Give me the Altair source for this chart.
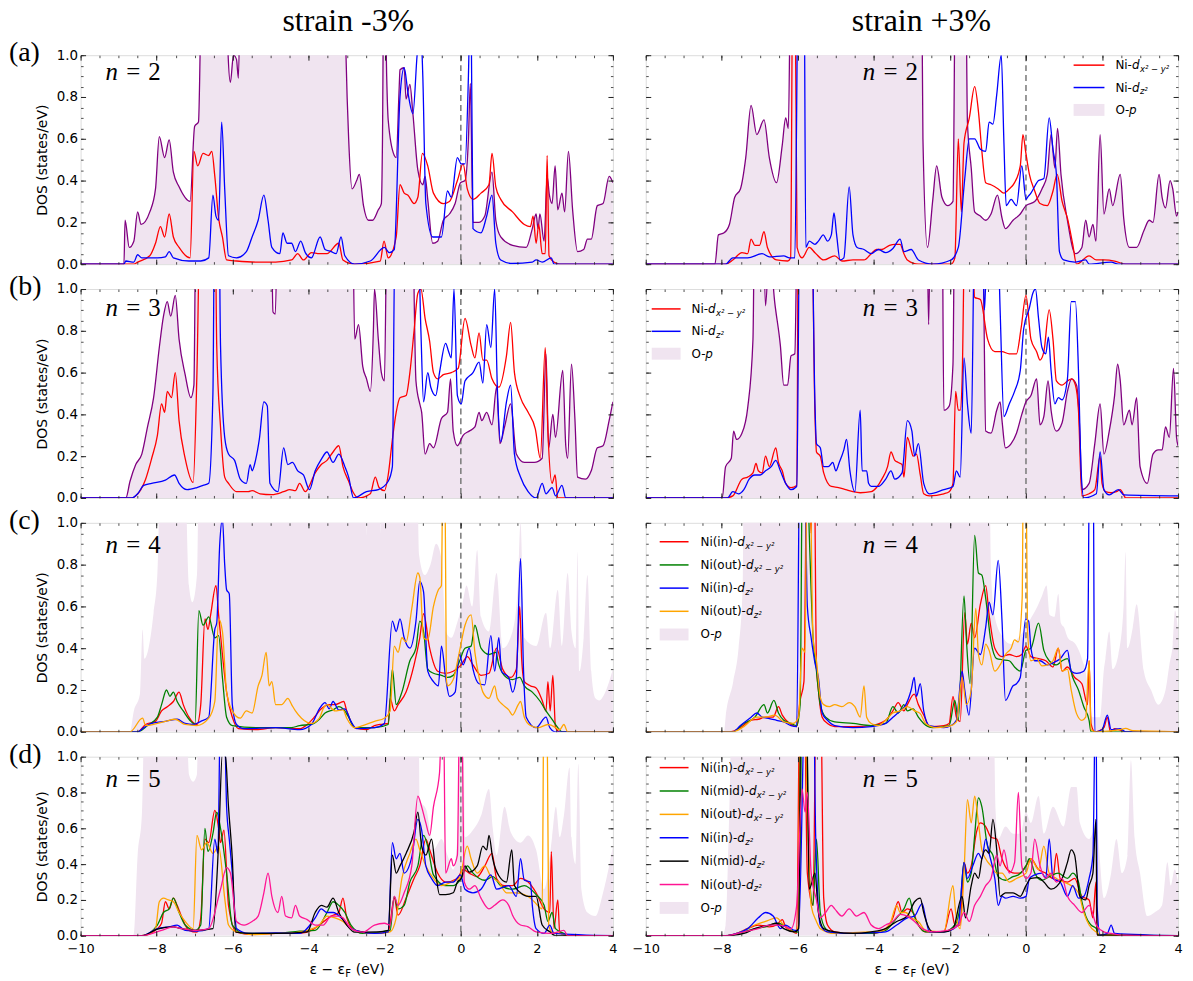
import altair as alt
import pandas as pd

# ---------------- values: (E - E_F  [eV], DOS [states/eV]) ----------------
# row (a) n = 2, strain -3 %
AL_OP = [(-10,0),(-8.86,0),(-8.83,0.21),(-8.72,0.08),(-8.60,0.11),(-8.50,0.25),(-8.41,0.19),(-8.18,0.25),(-8.03,0.36),(-7.93,0.61),(-7.79,0.51),(-7.67,0.595),(-7.56,0.44),(-7.41,0.37),(-7.12,0.30),(-7.00,0.66),(-6.90,0.68),(-6.80,1.5),(-6.16,1.5),(-6.12,1.0),(-6.06,0.87),(-5.98,1.0),(-5.90,0.98),(-5.85,0.89),(-5.78,1.5),(-3.07,1.5),(-3.02,1.0),(-2.95,0.6),(-2.86,0.36),(-2.74,0.40),(-2.67,0.43),(-2.56,0.28),(-2.43,0.21),(-2.32,0.21),(-2.17,0.26),(-2.09,0.29),(-2.06,0.6),(-2.03,1.3),(-1.99,1.3),(-1.95,0.9),(-1.91,0.69),(-1.75,0.52),(-1.70,0.51),(-1.62,0.85),(-1.60,0.93),(-1.49,0.94),(-1.44,0.79),(-1.34,0.86),(-1.26,0.72),(-1.13,0.45),(-1.00,0.38),(-0.94,0.42),(-0.87,0.31),(-0.74,0.10),(-0.61,0.11),(-0.46,0.21),(-0.30,0.24),(-0.15,0.29),(-0.01,0.39),(0.11,0.40),(0.20,0.60),(0.25,0.865),(0.32,0.20),(0.48,0.20),(0.63,0.23),(0.82,0.44),(0.92,0.21),(1.05,0.13),(1.36,0.09),(1.72,0.08),(1.88,0.17),(1.98,0.24),(2.03,0.17),(2.08,0.24),(2.19,0.11),(2.27,0.42),(2.33,0.33),(2.40,0.29),(2.48,0.47),(2.55,0.26),(2.66,0.34),(2.73,0.25),(2.83,0.54),(2.94,0.26),(3.07,0.06),(3.23,0.07),(3.33,0.12),(3.43,0.12),(3.59,0.28),(3.74,0.29),(3.90,0.42),(4.0,0.39)]
AL_RED = [(-10,0),(-8.6,0),(-8.50,0.01),(-8.18,0.04),(-8.03,0.10),(-7.90,0.18),(-7.79,0.13),(-7.67,0.24),(-7.56,0.13),(-7.41,0.08),(-7.12,0.03),(-7.02,0.54),(-6.92,0.47),(-6.78,0.53),(-6.63,0.52),(-6.55,0.54),(-6.47,0.42),(-6.37,0.22),(-6.27,0.13),(-6.16,0.02),(-5.90,0.015),(-5.38,0.01),(-4.87,0.01),(-4.45,0.02),(-4.29,0.05),(-4.14,0.02),(-3.93,0.055),(-3.72,0.05),(-3.52,0.05),(-3.21,0.10),(-3.10,0.02),(-2.79,0.0),(-2.12,0.015),(-2.02,0.11),(-1.91,0.03),(-1.70,0.13),(-1.60,0.38),(-1.49,0.34),(-1.39,0.33),(-1.23,0.29),(-1.13,0.32),(-1.01,0.53),(-0.87,0.47),(-0.72,0.34),(-0.46,0.29),(-0.30,0.30),(-0.09,0.40),(0.06,0.48),(0.17,0.36),(0.32,0.31),(0.53,0.34),(0.74,0.38),(0.82,0.53),(0.92,0.37),(1.05,0.31),(1.36,0.25),(1.67,0.19),(1.83,0.18),(1.90,0.23),(1.98,0.10),(2.05,0.19),(2.14,0.05),(2.22,0.05),(2.27,0.52),(2.32,0.04),(2.45,0.01),(2.60,0),(4.0,0)]
AL_BLUE = [(-10,0),(-8.86,0),(-8.81,0.015),(-8.60,0.01),(-8.50,0.045),(-8.39,0.03),(-7.98,0.03),(-7.77,0.035),(-7.67,0.06),(-7.56,0.03),(-7.15,0.015),(-6.84,0.015),(-6.63,0.03),(-6.52,0.33),(-6.44,0.23),(-6.37,0.21),(-6.29,0.68),(-6.21,0.36),(-6.11,0.04),(-5.90,0.03),(-5.64,0.06),(-5.49,0.13),(-5.33,0.21),(-5.18,0.33),(-5.07,0.21),(-4.97,0.08),(-4.76,0.05),(-4.68,0.15),(-4.57,0.10),(-4.45,0.10),(-4.35,0.06),(-4.21,0.11),(-4.09,0.055),(-3.93,0.03),(-3.70,0.13),(-3.57,0.07),(-3.41,0.06),(-3.28,0.05),(-3.15,0.13),(-3.05,0.04),(-2.79,0.0),(-2.38,0.015),(-2.01,0.08),(-1.88,0.055),(-1.75,0.07),(-1.60,0.80),(-1.49,0.94),(-1.39,0.82),(-1.26,0.72),(-1.15,1.0),(-1.06,1.15),(-1.0,0.9),(-0.92,0.29),(-0.74,0.13),(-0.51,0.13),(-0.35,0.35),(-0.25,0.32),(-0.09,0.51),(0.01,0.48),(0.11,0.48),(0.20,0.9),(0.24,1.2),(0.28,1.0),(0.32,0.17),(0.53,0.15),(0.68,0.23),(0.82,0.33),(0.92,0.10),(1.05,0.02),(1.36,0.003),(1.88,0.01),(1.98,0.02),(2.14,0.01),(2.38,0.03),(2.45,0.0),(4.0,0)]
# row (a) n = 2, strain +3 %
AR_OP = [(-10,0),(-8.18,0),(-8.09,0.14),(-7.94,0.15),(-7.80,0.19),(-7.66,0.32),(-7.51,0.36),(-7.37,0.51),(-7.23,0.76),(-7.08,0.62),(-6.89,0.69),(-6.75,0.51),(-6.56,0.39),(-6.41,0.57),(-6.32,0.70),(-6.25,0.65),(-6.18,1.5),(-2.75,1.5),(-2.71,0.6),(-2.59,0.08),(-2.45,0.31),(-2.35,0.47),(-2.21,0.32),(-2.06,0.28),(-1.92,0.30),(-1.85,1.5),(-1.59,1.5),(-1.54,0.68),(-1.44,0.46),(-1.35,0.25),(-1.20,0.23),(-1.06,0.21),(-0.92,0.24),(-0.75,0.33),(-0.63,0.22),(-0.54,0.17),(-0.34,0.21),(-0.15,0.24),(0.0,0.28),(0.23,0.30),(0.42,0.36),(0.56,0.43),(0.66,0.62),(0.76,0.46),(0.83,0.65),(0.92,0.43),(1.09,0.21),(1.30,0.05),(1.47,0.08),(1.57,0.21),(1.66,0.13),(1.76,0.19),(1.84,0.11),(1.95,0.62),(2.05,0.24),(2.19,0.36),(2.28,0.28),(2.48,0.43),(2.57,0.22),(2.72,0.08),(2.91,0.08),(3.10,0.16),(3.24,0.21),(3.34,0.20),(3.50,0.43),(3.58,0.32),(3.67,0.27),(3.79,0.40),(3.86,0.36),(3.96,0.23),(4.0,0.25)]
AR_RED = [(-10,0),(-7.90,0),(-7.71,0.02),(-7.47,0.055),(-7.32,0.05),(-7.23,0.12),(-7.13,0.09),(-7.01,0.09),(-6.89,0.155),(-6.80,0.08),(-6.56,0.02),(-6.27,0.015),(-6.19,0.03),(-6.13,1.5),(-6.08,1.5),(-6.02,0.08),(-5.89,0.03),(-5.70,0.08),(-5.55,0.055),(-5.32,0.02),(-5.03,0.04),(-4.84,0.015),(-4.55,0.02),(-4.26,0.02),(-4.07,0.05),(-3.93,0.07),(-3.79,0.07),(-3.59,0.09),(-3.45,0.095),(-3.31,0.095),(-3.21,0.05),(-3.12,0.02),(-2.83,0),(-1.97,0),(-1.87,0.03),(-1.78,0.60),(-1.70,0.25),(-1.63,0.58),(-1.49,0.70),(-1.35,0.85),(-1.25,0.73),(-1.16,0.54),(-1.06,0.39),(-0.92,0.38),(-0.73,0.36),(-0.58,0.34),(-0.44,0.36),(-0.30,0.39),(-0.15,0.47),(-0.08,0.62),(-0.01,0.54),(0.09,0.43),(0.23,0.35),(0.37,0.29),(0.56,0.28),(0.71,0.35),(0.82,0.43),(0.95,0.30),(1.09,0.22),(1.23,0.095),(1.33,0.0),(1.66,0.04),(1.85,0.02),(2.05,0.02),(2.33,0.015),(2.62,0),(4.0,0)]
AR_BLUE = [(-10,0),(-7.90,0),(-7.71,0.03),(-7.32,0.03),(-6.94,0.05),(-6.75,0.035),(-6.37,0.04),(-6.22,0.03),(-6.08,0.03),(-5.98,1.5),(-5.84,1.5),(-5.79,0.08),(-5.70,0.11),(-5.55,0.095),(-5.46,0.11),(-5.33,0.14),(-5.22,0.11),(-5.12,0.14),(-5.05,0.245),(-4.98,0.14),(-4.89,0.02),(-4.79,0.03),(-4.65,0.37),(-4.55,0.14),(-4.44,0.08),(-4.26,0.07),(-4.07,0.05),(-3.88,0.07),(-3.69,0.055),(-3.50,0.075),(-3.31,0.12),(-3.21,0.06),(-3.02,0.07),(-2.83,0.02),(-2.45,0),(-1.97,0.02),(-1.78,0.08),(-1.61,0.41),(-1.49,0.60),(-1.35,0.60),(-1.20,0.55),(-1.06,0.54),(-0.97,0.68),(-0.87,0.67),(-0.77,0.81),(-0.65,1.0),(-0.58,0.58),(-0.52,0.28),(-0.39,0.31),(-0.25,0.28),(-0.11,0.47),(0.0,0.31),(0.04,0.32),(0.13,0.34),(0.33,0.40),(0.47,0.41),(0.61,0.70),(0.71,0.55),(0.80,0.43),(0.88,0.06),(0.99,0.02),(1.28,0.01),(1.57,0.02),(1.66,0.0),(2.24,0.01),(2.43,0),(4.0,0)]
# row (b) n = 3, strain -3 %
BL_OP = [(-10,0),(-8.81,0),(-8.70,0.08),(-8.55,0.16),(-8.39,0.21),(-8.24,0.34),(-8.08,0.48),(-7.93,0.72),(-7.82,0.87),(-7.72,0.94),(-7.63,0.87),(-7.51,0.97),(-7.41,0.76),(-7.25,0.59),(-7.10,0.48),(-7.02,0.54),(-6.96,1.5),(-5.00,1.5),(-4.94,0.89),(-4.88,0.88),(-4.80,1.5),(-2.86,1.5),(-2.79,0.76),(-2.69,0.83),(-2.58,0.63),(-2.48,0.57),(-2.38,0.51),(-2.30,0.8),(-2.27,1.0),(-2.17,0.76),(-2.09,0.60),(-2.01,0.56),(-1.93,1.5),(-1.29,1.5),(-1.18,0.56),(-1.08,0.45),(-1.03,0.41),(-0.94,0.21),(-0.82,0.26),(-0.72,0.24),(-0.51,0.38),(-0.35,0.41),(-0.27,0.57),(-0.20,0.32),(-0.09,0.25),(0.06,0.30),(0.22,0.32),(0.37,0.34),(0.48,0.41),(0.55,0.37),(0.68,0.41),(0.82,0.35),(0.94,0.53),(1.03,0.26),(1.15,0.34),(1.31,0.45),(1.46,0.21),(1.67,0.17),(1.93,0.17),(2.14,0.19),(2.24,0.69),(2.31,0.24),(2.42,0.40),(2.49,0.29),(2.68,0.61),(2.76,0.25),(2.81,0.19),(2.91,0.64),(3.00,0.38),(3.07,0.10),(3.28,0.09),(3.43,0.13),(3.59,0.24),(3.74,0.25),(3.90,0.37),(4.0,0.46)]
BL_RED = [(-10,0),(-8.65,0),(-8.55,0.01),(-8.29,0.09),(-8.13,0.19),(-7.98,0.30),(-7.87,0.45),(-7.79,0.41),(-7.72,0.51),(-7.61,0.48),(-7.51,0.60),(-7.41,0.37),(-7.25,0.19),(-7.04,0.075),(-6.94,0.60),(-6.84,1.5),(-6.47,1.5),(-6.42,0.73),(-6.32,0.34),(-6.21,0.10),(-6.11,0.07),(-5.90,0.03),(-5.59,0.03),(-5.49,0.035),(-5.28,0.02),(-4.97,0.016),(-4.66,0.03),(-4.50,0.04),(-4.35,0.035),(-4.24,0.07),(-4.09,0.03),(-3.83,0.12),(-3.67,0.16),(-3.52,0.18),(-3.36,0.22),(-3.21,0.25),(-3.10,0.15),(-2.95,0.08),(-2.84,0.03),(-2.69,0.0),(-2.38,0.02),(-2.25,0.10),(-2.15,0.05),(-2.01,0.035),(-1.91,0.11),(-1.80,0.28),(-1.70,0.41),(-1.60,0.48),(-1.44,0.49),(-1.34,0.60),(-1.23,0.80),(-1.13,0.98),(-1.05,1.0),(-0.94,0.86),(-0.82,0.75),(-0.72,0.60),(-0.61,0.57),(-0.46,0.59),(-0.25,0.60),(-0.07,0.62),(0.11,0.86),(0.27,0.73),(0.37,0.67),(0.48,0.79),(0.58,0.66),(0.68,0.66),(0.82,0.57),(1.00,0.53),(1.20,0.68),(1.31,0.84),(1.41,0.60),(1.57,0.48),(1.77,0.41),(1.96,0.33),(2.09,0.19),(2.22,0.72),(2.29,0.32),(2.40,0.07),(2.48,0.11),(2.55,0.0),(4.0,0)]
BL_BLUE = [(-10,0),(-8.65,0),(-8.50,0.02),(-8.34,0.06),(-8.13,0.07),(-7.77,0.085),(-7.53,0.11),(-7.41,0.07),(-7.20,0.04),(-6.94,0.05),(-6.78,0.06),(-6.63,0.07),(-6.52,0.5),(-6.47,1.5),(-6.37,1.5),(-6.32,0.73),(-6.21,0.29),(-6.11,0.21),(-5.95,0.18),(-5.80,0.09),(-5.64,0.07),(-5.54,0.16),(-5.49,0.13),(-5.40,0.18),(-5.30,0.28),(-5.18,0.46),(-5.09,0.44),(-5.02,0.07),(-4.81,0.03),(-4.66,0.24),(-4.55,0.16),(-4.43,0.17),(-4.29,0.13),(-4.14,0.11),(-3.98,0.04),(-3.83,0.13),(-3.67,0.185),(-3.52,0.22),(-3.36,0.17),(-3.21,0.21),(-3.05,0.15),(-2.95,0.10),(-2.82,0.0),(-2.48,0.03),(-2.17,0.04),(-1.91,0.08),(-1.80,0.15),(-1.73,1.3),(-1.60,1.3),(-1.13,1.3),(-1.05,0.8),(-0.98,0.46),(-0.87,0.60),(-0.79,0.53),(-0.66,0.49),(-0.56,0.60),(-0.40,0.74),(-0.32,0.70),(-0.25,0.67),(-0.18,1.0),(-0.09,0.49),(0.01,0.45),(0.11,0.56),(0.32,0.60),(0.48,0.65),(0.58,0.55),(0.68,0.83),(0.79,0.72),(0.89,1.0),(0.96,0.53),(1.05,0.27),(1.20,0.46),(1.31,0.54),(1.41,0.21),(1.57,0.10),(1.77,0.03),(1.98,0.0),(2.14,0.07),(2.24,0.02),(2.40,0.05),(2.49,0.01),(2.66,0.06),(2.76,0.0),(4.0,0)]
# row (b) n = 3, strain +3 %
BR_OP = [(-10,0),(-7.99,0),(-7.90,0.15),(-7.75,0.19),(-7.69,0.32),(-7.61,0.28),(-7.47,0.31),(-7.32,0.43),(-7.18,0.76),(-7.13,1.5),(-6.94,1.5),(-6.85,0.92),(-6.75,1.2),(-6.61,0.94),(-6.46,0.73),(-6.37,0.54),(-6.27,0.54),(-6.18,0.68),(-6.08,0.69),(-6.00,1.5),(-2.62,1.5),(-2.56,0.83),(-2.50,1.5),(-2.21,1.5),(-2.16,0.42),(-2.02,0.44),(-1.92,0.64),(-1.87,1.5),(-1.16,1.5),(-1.11,0.95),(-1.06,0.32),(-0.92,0.31),(-0.77,0.42),(-0.68,0.46),(-0.63,0.37),(-0.54,0.24),(-0.39,0.26),(-0.25,0.31),(-0.11,0.40),(0.0,0.46),(0.13,0.49),(0.28,0.57),(0.37,0.35),(0.47,0.39),(0.58,0.56),(0.66,0.42),(0.80,0.32),(0.95,0.36),(1.09,0.51),(1.20,0.57),(1.33,0.54),(1.42,0.3),(1.47,0.04),(1.66,0.07),(1.81,0.26),(1.95,0.45),(2.05,0.21),(2.19,0.32),(2.33,0.49),(2.41,0.64),(2.48,0.56),(2.57,0.35),(2.72,0.42),(2.79,0.35),(2.91,0.48),(3.00,0.15),(3.19,0.07),(3.34,0.21),(3.48,0.23),(3.58,0.23),(3.67,0.34),(3.77,0.29),(3.88,0.62),(3.96,0.29),(4.0,0.25)]
BR_RED = [(-10,0),(-7.90,0),(-7.71,0.01),(-7.47,0.09),(-7.32,0.10),(-7.18,0.12),(-7.10,0.165),(-7.04,0.13),(-6.94,0.12),(-6.85,0.20),(-6.75,0.15),(-6.58,0.24),(-6.51,0.17),(-6.41,0.13),(-6.32,0.07),(-6.18,0.05),(-6.03,0.06),(-5.98,1.5),(-5.65,1.5),(-5.55,0.40),(-5.51,0.22),(-5.41,0.20),(-5.32,0.12),(-5.12,0.055),(-4.93,0.05),(-4.74,0.04),(-4.55,0.03),(-4.36,0.025),(-4.07,0.03),(-3.93,0.05),(-3.79,0.09),(-3.64,0.15),(-3.55,0.22),(-3.45,0.18),(-3.36,0.17),(-3.26,0.16),(-3.21,0.10),(-3.12,0.29),(-3.02,0.23),(-2.97,0.20),(-2.88,0.21),(-2.78,0.11),(-2.69,0.02),(-2.54,0.01),(-2.16,0.02),(-2.02,0.03),(-1.92,0.07),(-1.85,0.51),(-1.78,0.42),(-1.73,0.42),(-1.68,0.56),(-1.59,1.5),(-1.44,1.5),(-1.35,0.96),(-1.20,0.95),(-1.01,0.76),(-0.82,0.70),(-0.63,0.70),(-0.44,0.69),(-0.25,0.69),(-0.13,0.81),(0.0,0.97),(0.13,0.76),(0.28,0.70),(0.37,0.66),(0.47,0.70),(0.61,0.90),(0.71,0.76),(0.80,0.56),(0.95,0.54),(1.09,0.56),(1.20,0.57),(1.30,0.54),(1.38,0.42),(1.47,0.01),(1.66,0.02),(1.81,0.04),(1.95,0.20),(2.00,0.07),(2.09,0.03),(2.24,0.025),(2.38,0.03),(2.48,0.04),(2.57,0.015),(2.62,0),(4.0,0)]
BR_BLUE = [(-10,0),(-7.85,0),(-7.71,0.03),(-7.56,0.02),(-7.42,0.04),(-7.28,0.09),(-7.13,0.11),(-6.99,0.11),(-6.85,0.13),(-6.70,0.15),(-6.58,0.18),(-6.46,0.13),(-6.32,0.07),(-6.18,0.04),(-6.03,0.055),(-5.94,1.5),(-5.65,1.5),(-5.55,0.45),(-5.51,0.26),(-5.41,0.24),(-5.32,0.15),(-5.20,0.15),(-5.08,0.17),(-5.00,0.13),(-4.91,0.17),(-4.79,0.23),(-4.72,0.28),(-4.63,0.13),(-4.50,0.03),(-4.36,0.42),(-4.31,0.13),(-4.19,0.13),(-4.14,0.07),(-4.07,0.055),(-3.88,0.055),(-3.69,0.09),(-3.55,0.13),(-3.45,0.09),(-3.26,0.12),(-3.12,0.37),(-3.00,0.32),(-2.93,0.20),(-2.83,0.26),(-2.69,0.07),(-2.54,0.02),(-2.16,0.04),(-1.92,0.055),(-1.83,0.13),(-1.73,0.10),(-1.63,0.67),(-1.54,0.45),(-1.44,0.31),(-1.35,1.3),(-1.16,1.3),(-1.09,0.9),(-1.01,1.3),(-0.75,1.3),(-0.68,0.9),(-0.58,0.39),(-0.44,0.45),(-0.30,0.51),(-0.15,0.61),(-0.06,0.81),(0.09,0.91),(0.18,0.98),(0.25,1.0),(0.33,0.86),(0.42,0.72),(0.52,0.69),(0.59,0.77),(0.66,0.61),(0.76,0.45),(0.85,0.48),(0.95,0.47),(1.09,0.57),(1.19,0.94),(1.30,0.94),(1.38,0.61),(1.45,0.13),(1.52,0.0),(1.85,0.02),(1.95,0.22),(2.05,0.04),(2.19,0.015),(2.43,0.04),(2.57,0.015),(4.0,0.01)]
# row (c) n = 4, strain -3 %
CL_OP = [(-10,0),(-8.70,0),(-8.60,0.10),(-8.44,0.18),(-8.37,0.49),(-8.32,0.35),(-8.24,0.38),(-8.08,0.57),(-7.98,0.76),(-7.87,1.5),(-7.30,1.5),(-7.15,0.70),(-7.06,0.62),(-6.94,0.75),(-6.87,1.5),(-2.50,1.5),(-2.48,0.94),(-2.45,1.5),(-2.14,1.5),(-2.12,0.95),(-2.09,1.5),(-1.17,1.5),(-1.10,0.85),(-0.95,0.75),(-0.80,0.80),(-0.65,0.9),(-0.50,0.82),(-0.40,0.48),(-0.25,0.45),(-0.10,0.52),(0.05,0.62),(0.15,0.70),(0.30,0.60),(0.43,0.87),(0.53,0.55),(0.74,0.48),(0.94,0.76),(1.10,0.40),(1.36,0.48),(1.50,0.70),(1.57,1.0),(1.67,0.45),(1.98,0.41),(2.24,0.57),(2.35,0.40),(2.55,0.68),(2.66,0.41),(2.81,0.76),(2.91,0.48),(3.02,0.40),(3.07,0.86),(3.12,0.29),(3.23,0.45),(3.33,0.75),(3.43,0.29),(3.54,0.16),(3.64,0.15),(3.80,0.19),(3.90,0.24),(4.0,0.30)]
CL_RED = [(-10,0),(-8.50,0),(-8.29,0.035),(-8.03,0.05),(-7.87,0.10),(-7.72,0.12),(-7.56,0.145),(-7.41,0.19),(-7.30,0.13),(-7.15,0.07),(-6.94,0.035),(-6.84,0.13),(-6.73,0.54),(-6.65,0.49),(-6.58,0.56),(-6.44,0.70),(-6.37,0.56),(-6.27,0.37),(-6.16,0.19),(-6.01,0.07),(-5.85,0.015),(-5.38,0.01),(-4.87,0.02),(-4.24,0.015),(-4.04,0.035),(-3.83,0.075),(-3.67,0.11),(-3.46,0.13),(-3.31,0.13),(-3.08,0.145),(-3.00,0.10),(-2.79,0.02),(-2.48,0.01),(-2.27,0.03),(-2.12,0.035),(-1.91,0.04),(-1.86,0.16),(-1.75,0.10),(-1.65,0.13),(-1.44,0.19),(-1.23,0.32),(-1.08,0.45),(-0.98,0.565),(-0.82,0.40),(-0.61,0.29),(-0.40,0.28),(-0.20,0.29),(0.01,0.32),(0.17,0.36),(0.32,0.32),(0.53,0.27),(0.74,0.28),(0.94,0.40),(1.10,0.30),(1.31,0.26),(1.46,0.30),(1.55,0.60),(1.60,0.35),(1.67,0.24),(1.83,0.22),(1.98,0.21),(2.14,0.15),(2.24,0.10),(2.29,0.24),(2.35,0.10),(2.42,0.27),(2.49,0.02),(2.60,0),(4.0,0)]
CL_GREEN = [(-10,0),(-8.50,0),(-8.24,0.03),(-7.98,0.07),(-7.87,0.13),(-7.74,0.20),(-7.65,0.17),(-7.56,0.19),(-7.46,0.145),(-7.30,0.10),(-7.10,0.05),(-6.99,0.035),(-6.89,0.58),(-6.78,0.51),(-6.63,0.55),(-6.47,0.45),(-6.37,0.46),(-6.27,0.26),(-6.16,0.07),(-6.01,0.03),(-5.38,0.02),(-4.45,0.02),(-4.24,0.03),(-3.93,0.035),(-3.72,0.06),(-3.57,0.09),(-3.36,0.105),(-3.21,0.12),(-3.10,0.11),(-2.95,0.07),(-2.79,0.02),(-2.27,0.02),(-1.91,0.035),(-1.80,0.30),(-1.70,0.13),(-1.55,0.19),(-1.34,0.34),(-1.18,0.40),(-1.08,0.53),(-0.98,0.48),(-0.87,0.30),(-0.72,0.28),(-0.51,0.27),(-0.35,0.26),(-0.20,0.27),(-0.04,0.335),(0.11,0.40),(0.27,0.41),(0.37,0.51),(0.53,0.40),(0.74,0.37),(0.92,0.38),(1.00,0.32),(1.20,0.26),(1.36,0.25),(1.55,0.26),(1.67,0.22),(1.88,0.19),(2.09,0.145),(2.24,0.10),(2.40,0.06),(2.55,0.02),(2.66,0),(4.0,0)]
CL_BLUE = [(-10,0),(-8.50,0),(-8.34,0.02),(-8.13,0.04),(-7.77,0.05),(-7.46,0.06),(-7.25,0.04),(-7.04,0.035),(-6.84,0.05),(-6.63,0.07),(-6.47,0.49),(-6.42,0.52),(-6.34,0.9),(-6.27,1.02),(-6.21,0.8),(-6.16,0.68),(-6.09,0.66),(-6.01,0.13),(-5.90,0.035),(-5.70,0.015),(-4.87,0.02),(-4.24,0.01),(-3.93,0.035),(-3.72,0.11),(-3.57,0.14),(-3.46,0.11),(-3.36,0.145),(-3.21,0.105),(-3.05,0.11),(-2.89,0.05),(-2.74,0.015),(-2.27,0.02),(-2.01,0.04),(-1.80,0.53),(-1.70,0.48),(-1.60,0.54),(-1.49,0.45),(-1.34,0.40),(-1.18,0.53),(-1.08,0.72),(-0.98,0.67),(-0.87,0.29),(-0.72,0.24),(-0.59,0.22),(-0.51,0.41),(-0.40,0.26),(-0.30,0.17),(-0.15,0.19),(-0.04,0.37),(0.06,0.32),(0.22,0.40),(0.32,0.30),(0.48,0.23),(0.63,0.225),(0.79,0.46),(0.89,0.29),(1.00,0.45),(1.07,0.29),(1.26,0.26),(1.36,0.19),(1.46,0.26),(1.57,0.83),(1.65,0.29),(1.72,0.07),(1.98,0.02),(2.24,0.07),(2.34,0.02),(2.49,0.0),(4.0,0)]
CL_ORANGE = [(-10,0),(-8.70,0),(-8.37,0.065),(-8.29,0.03),(-8.08,0.035),(-7.77,0.05),(-7.51,0.06),(-7.25,0.035),(-6.94,0.03),(-6.63,0.065),(-6.47,0.145),(-6.37,0.54),(-6.27,0.48),(-6.16,0.19),(-6.01,0.10),(-5.80,0.065),(-5.64,0.10),(-5.49,0.09),(-5.33,0.22),(-5.23,0.27),(-5.12,0.38),(-5.04,0.22),(-4.97,0.24),(-4.87,0.13),(-4.71,0.13),(-4.55,0.16),(-4.45,0.13),(-4.35,0.10),(-4.19,0.065),(-3.93,0.04),(-3.72,0.065),(-3.62,0.11),(-3.52,0.13),(-3.31,0.10),(-3.10,0.105),(-3.00,0.065),(-2.79,0.02),(-2.58,0.03),(-2.27,0.05),(-2.01,0.065),(-1.86,0.10),(-1.75,0.41),(-1.65,0.38),(-1.55,0.45),(-1.44,0.43),(-1.29,0.59),(-1.13,0.76),(-1.08,0.74),(-0.98,0.45),(-0.87,0.44),(-0.72,0.60),(-0.59,0.68),(-0.51,0.70),(-0.47,1.3),(-0.42,1.3),(-0.38,0.25),(-0.35,0.22),(-0.20,0.25),(-0.04,0.38),(0.11,0.51),(0.27,0.56),(0.37,0.38),(0.48,0.26),(0.58,0.19),(0.74,0.16),(0.89,0.22),(0.96,0.16),(1.10,0.13),(1.26,0.105),(1.36,0.08),(1.51,0.13),(1.57,0.145),(1.67,0.07),(1.83,0.03),(2.03,0.02),(2.29,0.035),(2.40,0.03),(2.60,0.01),(2.71,0.035),(2.81,0.0),(4.0,0)]
# row (c) n = 4, strain +3 %
CR_OP = [(-10,0),(-7.94,0),(-7.90,0.07),(-7.70,0.24),(-7.56,0.40),(-7.45,0.7),(-7.42,1.5),(-0.98,1.5),(-0.92,0.76),(-0.82,0.55),(-0.60,0.45),(-0.40,0.42),(-0.20,0.45),(0.0,0.5),(0.15,0.55),(0.30,0.60),(0.42,0.65),(0.54,0.70),(0.62,0.56),(0.75,0.55),(0.85,0.66),(0.92,0.52),(1.0,0.50),(1.10,0.45),(1.30,0.42),(1.47,0.35),(1.60,0.25),(1.66,0.10),(1.75,0.07),(1.95,0.07),(2.05,0.30),(2.09,0.35),(2.19,0.48),(2.28,0.30),(2.43,0.37),(2.57,0.61),(2.62,0.86),(2.67,0.40),(2.81,0.50),(2.91,0.61),(3.10,0.29),(3.29,0.20),(3.48,0.13),(3.67,0.20),(3.77,0.32),(3.86,0.42),(3.92,0.58),(4.0,0.48)]
CR_RED = [(-10,0),(-7.80,0),(-7.51,0.02),(-7.23,0.055),(-7.04,0.06),(-6.85,0.07),(-6.65,0.07),(-6.51,0.12),(-6.41,0.08),(-6.22,0.04),(-6.03,0.025),(-5.94,0.15),(-5.84,0.24),(-5.75,1.5),(-5.65,0.95),(-5.58,1.5),(-5.51,0.32),(-5.46,0.20),(-5.36,0.07),(-5.22,0.04),(-5.03,0.025),(-4.55,0.025),(-4.07,0.03),(-3.69,0.055),(-3.50,0.10),(-3.36,0.14),(-3.21,0.10),(-3.12,0.13),(-2.94,0.18),(-2.83,0.13),(-2.69,0.08),(-2.54,0.025),(-2.16,0.03),(-2.02,0.04),(-1.92,0.17),(-1.83,0.07),(-1.73,0.05),(-1.61,0.57),(-1.54,0.42),(-1.44,0.52),(-1.35,0.45),(-1.20,0.61),(-1.06,0.70),(-0.97,0.56),(-0.82,0.40),(-0.63,0.36),(-0.44,0.37),(-0.25,0.36),(-0.11,0.37),(0.0,0.41),(0.13,0.36),(0.33,0.35),(0.52,0.34),(0.71,0.31),(0.85,0.40),(0.95,0.29),(1.09,0.31),(1.28,0.26),(1.47,0.23),(1.62,0.13),(1.66,0.34),(1.71,0.04),(1.81,0.0),(2.05,0.02),(2.14,0.07),(2.22,0.0),(2.33,0.015),(2.62,0),(4.0,0)]
CR_GREEN = [(-10,0),(-7.71,0),(-7.42,0.04),(-7.13,0.07),(-6.89,0.13),(-6.80,0.09),(-6.63,0.15),(-6.51,0.09),(-6.37,0.055),(-6.18,0.04),(-6.03,0.03),(-5.94,0.13),(-5.87,1.5),(-5.79,1.5),(-5.70,0.95),(-5.60,0.45),(-5.51,0.29),(-5.41,0.13),(-5.27,0.07),(-5.03,0.047),(-4.55,0.04),(-4.07,0.03),(-3.69,0.04),(-3.50,0.12),(-3.36,0.09),(-3.21,0.13),(-3.12,0.10),(-2.97,0.11),(-2.83,0.07),(-2.69,0.04),(-2.45,0.02),(-2.02,0.03),(-1.87,0.15),(-1.78,0.055),(-1.63,0.65),(-1.57,0.45),(-1.47,0.23),(-1.35,0.94),(-1.25,0.76),(-1.16,0.75),(-1.06,0.64),(-0.92,0.43),(-0.77,0.35),(-0.63,0.345),(-0.44,0.34),(-0.30,0.31),(-0.15,0.29),(0.0,0.39),(0.13,0.40),(0.33,0.52),(0.47,0.39),(0.61,0.34),(0.80,0.32),(0.95,0.34),(1.09,0.35),(1.23,0.26),(1.38,0.20),(1.52,0.12),(1.66,0.055),(1.71,0.0),(4.0,0)]
CR_BLUE = [(-10,0),(-7.71,0),(-7.51,0.03),(-7.23,0.07),(-7.08,0.09),(-6.94,0.07),(-6.75,0.063),(-6.56,0.055),(-6.37,0.047),(-6.18,0.03),(-6.03,0.025),(-5.94,1.5),(-5.84,1.5),(-5.75,0.6),(-5.65,0.45),(-5.55,0.33),(-5.46,0.26),(-5.36,0.09),(-5.22,0.055),(-5.03,0.03),(-4.55,0.02),(-4.07,0.025),(-3.69,0.04),(-3.50,0.07),(-3.31,0.10),(-3.16,0.13),(-3.02,0.20),(-2.94,0.26),(-2.88,0.17),(-2.78,0.23),(-2.69,0.10),(-2.54,0.03),(-2.16,0.02),(-1.97,0.03),(-1.83,0.055),(-1.68,0.29),(-1.61,0.20),(-1.50,0.08),(-1.35,0.40),(-1.20,0.37),(-1.06,0.50),(-0.97,0.62),(-0.87,0.56),(-0.73,0.82),(-0.63,0.53),(-0.54,0.15),(-0.34,0.22),(-0.25,0.23),(-0.15,0.26),(-0.01,0.54),(0.07,0.53),(0.13,0.40),(0.23,0.34),(0.37,0.34),(0.56,0.32),(0.71,0.33),(0.90,0.35),(1.09,0.39),(1.19,0.29),(1.33,0.28),(1.52,0.29),(1.62,0.35),(1.68,1.5),(1.76,1.5),(1.81,0.0),(2.00,0.01),(2.14,0.08),(2.24,0.01),(2.48,0.015),(2.62,0),(4.0,0)]
CR_ORANGE = [(-10,0),(-7.71,0),(-7.42,0.025),(-7.08,0.07),(-6.85,0.07),(-6.61,0.08),(-6.37,0.047),(-6.13,0.04),(-5.98,0.07),(-5.89,0.40),(-5.81,0.38),(-5.75,1.5),(-5.68,1.3),(-5.60,0.45),(-5.51,0.34),(-5.41,0.165),(-5.32,0.13),(-5.17,0.12),(-5.03,0.13),(-4.84,0.12),(-4.65,0.14),(-4.50,0.12),(-4.36,0.07),(-4.26,0.22),(-4.19,0.07),(-4.07,0.04),(-3.88,0.03),(-3.69,0.055),(-3.50,0.09),(-3.31,0.10),(-3.12,0.12),(-2.93,0.10),(-2.78,0.087),(-2.64,0.04),(-2.35,0.02),(-1.97,0.03),(-1.83,0.047),(-1.68,0.26),(-1.57,0.13),(-1.44,0.20),(-1.32,0.59),(-1.25,0.37),(-1.16,0.32),(-1.06,0.42),(-0.97,0.39),(-0.82,0.29),(-0.68,0.32),(-0.54,0.37),(-0.39,0.40),(-0.30,0.44),(-0.20,0.43),(-0.10,0.64),(-0.06,1.5),(-0.01,1.5),(0.04,0.48),(0.13,0.34),(0.28,0.35),(0.42,0.315),(0.56,0.32),(0.71,0.34),(0.85,0.40),(0.95,0.29),(1.09,0.30),(1.19,0.20),(1.33,0.087),(1.47,0.055),(1.57,0.07),(1.66,0.34),(1.71,0.01),(1.85,0.0),(2.48,0.01),(2.62,0.016),(2.81,0.005),(4.0,0)]
# row (d) n = 5, strain -3 %
DL_OP = [(-10,0),(-8.65,0),(-8.60,0.01),(-8.50,0.45),(-8.39,0.67),(-8.29,1.5),(-7.25,1.5),(-7.15,0.9),(-7.04,0.86),(-6.94,0.9),(-6.89,1.5),(-1.13,1.5),(-1.08,0.76),(-0.90,0.70),(-0.72,0.48),(-0.51,0.54),(-0.35,0.45),(-0.20,0.37),(-0.09,0.55),(-0.01,1.5),(0.05,1.5),(0.11,0.55),(0.32,0.59),(0.53,0.67),(0.74,0.82),(0.84,0.60),(0.94,0.45),(1.15,0.72),(1.31,0.58),(1.57,0.52),(1.77,0.56),(1.98,0.48),(2.19,0.26),(2.40,0.55),(2.50,0.72),(2.60,0.55),(2.71,0.67),(2.86,0.94),(2.91,0.55),(3.02,0.40),(3.09,0.96),(3.17,0.26),(3.33,0.13),(3.54,0.11),(3.74,0.24),(3.90,0.39),(4.0,0.50)]
DL_RED = [(-10,0),(-8.39,0),(-7.98,0.04),(-7.87,0.07),(-7.77,0.19),(-7.67,0.15),(-7.56,0.21),(-7.46,0.17),(-7.35,0.11),(-7.15,0.03),(-6.94,0.02),(-6.84,0.10),(-6.73,0.54),(-6.63,0.52),(-6.47,0.70),(-6.37,0.60),(-6.32,0.52),(-6.23,0.59),(-6.11,0.17),(-5.90,0.02),(-5.49,0.007),(-4.87,0.013),(-4.24,0.013),(-3.93,0.03),(-3.72,0.06),(-3.41,0.11),(-3.21,0.13),(-3.10,0.21),(-3.00,0.10),(-2.79,0.03),(-2.27,0.013),(-1.91,0.02),(-1.75,0.21),(-1.65,0.115),(-1.44,0.21),(-1.23,0.32),(-1.08,0.39),(-0.92,0.54),(-0.82,0.48),(-0.61,0.35),(-0.40,0.30),(-0.09,0.32),(0.06,0.37),(0.22,0.35),(0.43,0.33),(0.63,0.39),(0.82,0.46),(0.94,0.32),(1.15,0.28),(1.36,0.28),(1.57,0.32),(1.77,0.30),(1.98,0.24),(2.19,0.15),(2.34,0.13),(2.38,0.47),(2.45,0.04),(2.55,0.20),(2.60,0.02),(2.81,0.0),(4.0,0)]
DL_GREEN = [(-10,0),(-8.39,0),(-7.98,0.06),(-7.82,0.13),(-7.67,0.15),(-7.56,0.21),(-7.41,0.13),(-7.25,0.06),(-6.99,0.03),(-6.84,0.06),(-6.73,0.60),(-6.65,0.47),(-6.52,0.57),(-6.42,0.69),(-6.32,0.60),(-6.16,0.35),(-6.01,0.06),(-5.70,0.013),(-4.87,0.013),(-4.24,0.026),(-3.83,0.03),(-3.52,0.13),(-3.36,0.19),(-3.21,0.17),(-3.05,0.13),(-2.89,0.06),(-2.58,0.013),(-1.86,0.03),(-1.75,0.22),(-1.65,0.15),(-1.49,0.17),(-1.34,0.30),(-1.13,0.39),(-0.98,0.56),(-0.87,0.50),(-0.72,0.34),(-0.40,0.28),(-0.20,0.28),(0.01,0.32),(0.17,0.39),(0.32,0.35),(0.63,0.31),(0.84,0.33),(1.05,0.28),(1.36,0.26),(1.67,0.28),(1.98,0.23),(2.19,0.17),(2.29,0.08),(2.40,0.13),(2.49,0.04),(2.71,0.013),(2.91,0),(4.0,0)]
DL_ORANGE = [(-10,0),(-8.39,0),(-8.03,0.04),(-7.93,0.19),(-7.82,0.21),(-7.69,0.20),(-7.56,0.19),(-7.41,0.13),(-7.25,0.08),(-7.04,0.04),(-6.94,0.56),(-6.82,0.48),(-6.68,0.52),(-6.52,0.46),(-6.37,0.50),(-6.21,0.21),(-6.11,0.06),(-5.90,0.022),(-5.38,0.007),(-4.87,0.013),(-4.35,0.018),(-4.04,0.03),(-3.72,0.06),(-3.52,0.11),(-3.31,0.10),(-3.10,0.08),(-2.89,0.04),(-2.27,0.013),(-1.86,0.022),(-1.70,0.10),(-1.55,0.32),(-1.34,0.46),(-1.18,0.54),(-1.08,0.48),(-0.92,0.39),(-0.72,0.32),(-0.51,0.28),(-0.25,0.30),(-0.04,0.32),(0.17,0.50),(0.27,0.43),(0.43,0.35),(0.63,0.39),(0.79,0.33),(1.00,0.30),(1.20,0.24),(1.46,0.24),(1.77,0.22),(1.93,0.19),(2.14,0.15),(2.19,1.5),(2.26,1.5),(2.31,0.06),(2.40,0.02),(2.60,0.013),(2.81,0),(4.0,0)]
DL_BLUE = [(-10,0),(-8.39,0),(-7.98,0.04),(-7.67,0.05),(-7.46,0.06),(-7.25,0.03),(-6.94,0.026),(-6.63,0.04),(-6.47,0.54),(-6.39,0.46),(-6.32,1.3),(-6.23,1.3),(-6.16,0.72),(-6.09,0.54),(-6.01,0.35),(-5.90,0.04),(-5.59,0.013),(-4.87,0.016),(-4.24,0.013),(-3.83,0.10),(-3.67,0.15),(-3.52,0.13),(-3.36,0.13),(-3.10,0.09),(-2.89,0.04),(-2.27,0.013),(-1.91,0.022),(-1.80,0.52),(-1.70,0.43),(-1.60,0.46),(-1.49,0.35),(-1.29,0.44),(-1.13,0.65),(-1.03,0.59),(-0.92,0.39),(-0.77,0.32),(-0.61,0.28),(-0.40,0.30),(-0.20,0.30),(-0.01,0.34),(0.11,0.26),(0.32,0.24),(0.53,0.26),(0.79,0.34),(0.94,0.26),(1.26,0.28),(1.46,0.22),(1.57,0.43),(1.67,0.31),(1.83,0.30),(1.88,0.17),(1.98,0.04),(2.19,0.013),(2.34,0.06),(2.45,0.013),(4.0,0)]
DL_BLACK = [(-10,0),(-8.39,0),(-7.98,0.037),(-7.56,0.05),(-7.35,0.04),(-6.94,0.03),(-6.52,0.04),(-6.37,0.52),(-6.27,1.02),(-6.19,1.0),(-6.11,0.72),(-6.01,0.43),(-5.92,0.02),(-5.49,0.013),(-4.87,0.013),(-4.04,0.022),(-3.83,0.13),(-3.67,0.17),(-3.52,0.16),(-3.36,0.21),(-3.21,0.13),(-3.00,0.06),(-2.79,0.02),(-2.17,0.022),(-1.91,0.03),(-1.80,0.45),(-1.70,0.35),(-1.60,0.39),(-1.44,0.46),(-1.23,0.58),(-1.13,0.69),(-1.03,0.50),(-0.92,0.45),(-0.77,0.54),(-0.66,0.35),(-0.56,0.23),(-0.40,0.23),(-0.20,0.24),(-0.09,0.30),(0.01,0.32),(0.11,0.39),(0.22,0.355),(0.43,0.39),(0.58,0.50),(0.68,0.48),(0.74,0.56),(0.84,0.43),(1.00,0.335),(1.20,0.30),(1.34,0.48),(1.41,0.28),(1.57,0.24),(1.77,0.22),(1.98,0.22),(2.14,0.06),(2.34,0.022),(2.49,0.0),(4.0,0)]
DL_PINK = [(-10,0),(-8.39,0),(-7.87,0.03),(-7.56,0.05),(-7.35,0.04),(-6.94,0.03),(-6.63,0.04),(-6.32,0.26),(-6.16,0.38),(-6.06,0.35),(-5.90,0.08),(-5.70,0.06),(-5.49,0.08),(-5.33,0.11),(-5.18,0.24),(-5.07,0.35),(-4.97,0.22),(-4.81,0.13),(-4.71,0.22),(-4.61,0.11),(-4.45,0.10),(-4.35,0.17),(-4.24,0.11),(-4.04,0.09),(-3.83,0.06),(-3.62,0.06),(-3.41,0.11),(-3.21,0.11),(-3.10,0.10),(-2.89,0.04),(-2.58,0.02),(-2.27,0.06),(-2.01,0.07),(-1.86,0.06),(-1.75,0.22),(-1.65,0.17),(-1.49,0.24),(-1.29,0.39),(-1.13,0.78),(-1.03,0.72),(-0.92,0.63),(-0.82,0.56),(-0.72,0.72),(-0.56,0.91),(-0.49,1.3),(-0.46,1.3),(-0.40,0.35),(-0.25,0.43),(-0.20,0.39),(-0.09,0.45),(-0.03,1.3),(0.02,1.3),(0.09,0.30),(0.22,0.26),(0.37,0.28),(0.53,0.21),(0.74,0.15),(0.89,0.17),(1.10,0.20),(1.26,0.17),(1.36,0.115),(1.57,0.06),(1.77,0.05),(1.98,0.022),(2.40,0.013),(2.71,0.03),(2.81,0.0),(4.0,0)]
# row (d) n = 5, strain +3 %
DR_OP = [(-10,0),(-7.99,0),(-7.90,0.06),(-7.80,0.72),(-7.71,1.5),(-0.87,1.5),(-0.80,0.7),(-0.73,0.54),(-0.54,0.61),(-0.34,0.57),(-0.15,0.57),(0.0,0.69),(0.13,0.63),(0.33,0.78),(0.47,0.57),(0.71,0.72),(0.99,0.61),(1.19,0.83),(1.33,0.83),(1.42,0.63),(1.66,0.54),(1.85,0.61),(2.05,0.21),(2.24,0.35),(2.38,0.54),(2.52,0.35),(2.67,0.45),(2.76,0.98),(2.86,0.54),(3.00,0.35),(3.19,0.11),(3.38,0.13),(3.58,0.17),(3.72,0.41),(3.81,0.28),(3.91,0.37),(4.0,0.30)]
DR_RED = [(-10,0),(-7.90,0),(-7.61,0.013),(-7.32,0.04),(-7.04,0.06),(-6.75,0.05),(-6.56,0.06),(-6.41,0.09),(-6.32,0.05),(-6.18,0.03),(-6.03,0.013),(-5.94,1.5),(-5.84,1.5),(-5.75,0.35),(-5.60,0.17),(-5.51,1.5),(-5.41,1.5),(-5.32,0.21),(-5.22,0.06),(-5.03,0.022),(-4.55,0.013),(-4.07,0.013),(-3.69,0.04),(-3.50,0.10),(-3.36,0.19),(-3.26,0.13),(-3.12,0.15),(-2.97,0.13),(-2.83,0.06),(-2.64,0.022),(-2.16,0.022),(-1.97,0.15),(-1.87,0.06),(-1.73,0.06),(-1.63,0.41),(-1.54,0.35),(-1.44,0.39),(-1.30,0.58),(-1.20,0.63),(-1.06,0.61),(-0.92,0.55),(-0.77,0.54),(-0.63,0.43),(-0.49,0.37),(-0.30,0.35),(-0.15,0.35),(0.0,0.39),(0.13,0.43),(0.33,0.37),(0.52,0.35),(0.71,0.32),(0.80,0.46),(0.90,0.32),(1.09,0.30),(1.28,0.32),(1.47,0.22),(1.66,0.20),(1.76,0.10),(1.84,0.30),(1.87,0.004),(2.05,0.004),(4.0,0)]
DR_GREEN = [(-10,0),(-7.90,0),(-7.42,0.022),(-7.13,0.04),(-6.85,0.05),(-6.56,0.07),(-6.37,0.06),(-6.18,0.03),(-5.98,0.02),(-5.87,1.5),(-5.79,1.5),(-5.70,0.35),(-5.60,0.17),(-5.51,0.54),(-5.41,0.13),(-5.27,0.04),(-5.03,0.013),(-4.07,0.013),(-3.69,0.03),(-3.40,0.10),(-3.21,0.15),(-3.07,0.21),(-2.97,0.13),(-2.83,0.06),(-2.64,0.022),(-2.16,0.022),(-1.87,0.06),(-1.73,0.17),(-1.63,0.41),(-1.54,0.30),(-1.44,0.35),(-1.35,0.56),(-1.25,0.77),(-1.16,0.72),(-1.01,0.50),(-0.87,0.45),(-0.73,0.33),(-0.54,0.31),(-0.34,0.33),(-0.20,0.34),(0.0,0.39),(0.09,0.43),(0.23,0.35),(0.42,0.31),(0.61,0.33),(0.85,0.35),(1.09,0.32),(1.23,0.35),(1.38,0.30),(1.47,0.19),(1.57,0.11),(1.71,0.06),(1.85,0.04),(1.90,0.004),(4.0,0)]
DR_ORANGE = [(-10,0),(-7.90,0),(-7.51,0.022),(-7.13,0.06),(-6.85,0.08),(-6.56,0.10),(-6.37,0.06),(-6.08,0.022),(-5.98,0.06),(-5.94,1.5),(-5.84,1.5),(-5.75,0.72),(-5.65,0.17),(-5.51,0.08),(-5.41,0.04),(-5.03,0.013),(-4.07,0.022),(-3.88,0.022),(-3.59,0.06),(-3.40,0.17),(-3.31,0.13),(-3.16,0.13),(-3.02,0.10),(-2.83,0.08),(-2.64,0.03),(-2.16,0.022),(-1.92,0.28),(-1.85,0.13),(-1.73,0.04),(-1.63,0.35),(-1.54,0.76),(-1.44,0.63),(-1.35,0.78),(-1.25,0.63),(-1.16,0.48),(-1.06,0.43),(-0.92,0.39),(-0.77,0.35),(-0.63,0.35),(-0.44,0.30),(-0.25,0.32),(0.0,0.35),(0.13,0.43),(0.33,0.37),(0.47,0.50),(0.61,0.35),(0.80,0.32),(0.99,0.30),(1.19,0.28),(1.38,0.24),(1.52,0.13),(1.66,0.06),(1.85,0.02),(2.05,0.004),(4.0,0)]
DR_BLUE = [(-10,0),(-7.90,0),(-7.61,0.013),(-7.32,0.04),(-7.04,0.10),(-6.85,0.13),(-6.65,0.11),(-6.46,0.04),(-6.32,0.06),(-6.08,0.03),(-5.98,0.03),(-5.79,1.5),(-5.60,1.5),(-5.53,0.55),(-5.41,0.06),(-5.22,0.022),(-4.55,0.013),(-4.07,0.017),(-3.69,0.022),(-3.40,0.06),(-3.12,0.10),(-2.93,0.11),(-2.73,0.18),(-2.64,0.10),(-2.54,0.022),(-2.16,0.022),(-1.78,0.06),(-1.63,0.41),(-1.54,0.32),(-1.40,0.39),(-1.25,0.46),(-1.16,0.43),(-1.06,0.54),(-0.97,0.46),(-0.82,0.32),(-0.73,0.17),(-0.63,0.22),(-0.54,0.21),(-0.34,0.22),(-0.15,0.21),(0.0,0.22),(0.09,0.32),(0.23,0.34),(0.42,0.35),(0.52,0.32),(0.61,0.54),(0.71,0.32),(0.90,0.30),(1.09,0.22),(1.23,0.28),(1.38,0.21),(1.52,0.22),(1.66,0.32),(1.76,0.45),(1.84,1.5),(1.87,0.17),(1.95,0.004),(2.14,0.013),(2.24,0.06),(2.33,0.013),(4.0,0)]
DR_BLACK = [(-10,0),(-7.90,0),(-7.42,0.013),(-7.13,0.04),(-6.75,0.06),(-6.56,0.07),(-6.37,0.04),(-6.08,0.022),(-5.98,0.04),(-5.91,1.5),(-5.79,1.5),(-5.70,0.26),(-5.55,0.35),(-5.46,0.13),(-5.32,0.04),(-5.03,0.022),(-4.55,0.013),(-4.07,0.022),(-3.69,0.04),(-3.40,0.08),(-3.12,0.11),(-2.93,0.19),(-2.78,0.21),(-2.69,0.13),(-2.59,0.06),(-2.45,0.022),(-2.16,0.022),(-1.92,0.04),(-1.68,0.22),(-1.59,0.10),(-1.44,0.28),(-1.35,0.35),(-1.25,0.32),(-1.16,0.43),(-1.06,0.48),(-0.97,0.46),(-0.87,0.65),(-0.77,0.48),(-0.68,0.22),(-0.54,0.24),(-0.34,0.24),(-0.15,0.22),(0.0,0.28),(0.13,0.32),(0.33,0.325),(0.47,0.30),(0.66,0.26),(0.95,0.32),(1.09,0.41),(1.19,0.48),(1.28,0.45),(1.42,0.22),(1.57,0.20),(1.66,0.28),(1.76,0.35),(1.84,0.65),(1.87,0.004),(2.05,0.004),(4.0,0)]
DR_PINK = [(-10,0),(-7.90,0),(-7.42,0.022),(-7.04,0.04),(-6.75,0.06),(-6.46,0.06),(-6.18,0.04),(-6.03,0.17),(-5.89,0.82),(-5.81,0.69),(-5.75,0.80),(-5.65,0.35),(-5.51,0.20),(-5.41,0.10),(-5.27,0.13),(-5.12,0.17),(-5.03,0.15),(-4.84,0.11),(-4.65,0.15),(-4.46,0.11),(-4.26,0.13),(-4.07,0.06),(-3.88,0.04),(-3.69,0.06),(-3.50,0.08),(-3.31,0.12),(-3.12,0.11),(-2.93,0.08),(-2.73,0.04),(-2.45,0.022),(-2.06,0.03),(-1.78,0.06),(-1.63,0.13),(-1.49,0.08),(-1.35,0.17),(-1.20,0.22),(-1.06,0.28),(-0.92,0.32),(-0.77,0.45),(-0.68,0.39),(-0.58,0.48),(-0.44,0.35),(-0.30,0.41),(-0.20,0.80),(-0.11,0.39),(0.0,0.32),(0.13,0.35),(0.23,0.54),(0.37,0.39),(0.52,0.32),(0.66,0.35),(0.80,0.30),(0.95,0.32),(1.09,0.22),(1.28,0.17),(1.47,0.13),(1.66,0.17),(1.85,0.06),(2.05,0.022),(2.24,0.013),(2.48,0.004),(4.0,0)]

# ---------------- labels ----------------
COLUMN_TITLES = ["strain -3%", "strain +3%"]
PANEL_TAGS = ["(a)", "(b)", "(c)", "(d)"]
N_LAYERS = ["2", "3", "4", "5"]
X_TICKS = [-10, -8, -6, -4, -2, 0, 2, 4]
Y_TICKS = [0, 0.2, 0.4, 0.6, 0.8, 1.0]
X_MINOR = [-10 + 0.5 * k for k in range(29)]
Y_MINOR = [round(0.05 * k, 2) for k in range(21)]
SUB_X2Y2 = "x² − y²"
SUB_Z2 = "z²"

# ---------------- style ----------------
SANS = "DejaVu Sans"
SERIF = "Liberation Serif"
FILL = "#f0e4f0"
PURPLE = "#800080"
RED = "#ff0000"
BLUE = "#0000ff"
GREEN = "#008000"
ORANGE = "#ffa500"
BLACK = "#000000"
PINK = "#ff1493"
PW = 535
ONE = pd.DataFrame({"k": [0]})
AXDF = pd.DataFrame({"x": [-10.0, 4.0], "y": [0.0, 1.0]})


def xs():
    return alt.Scale(domain=[-10, 4], nice=False, zero=False)


def ys():
    return alt.Scale(domain=[0, 1], nice=False, zero=False)


def pts_df(pts):
    return pd.DataFrame({"x": [p[0] for p in pts], "y": [p[1] for p in pts],
                         "i": list(range(len(pts)))})


def T(text, x, y, size, font=SANS, style="normal", align="left", baseline="middle"):
    return alt.Chart(ONE).mark_text(text=text, font=font, fontSize=size, fontStyle=style,
                                    align=align, baseline=baseline, color="#000000").encode(
        x=alt.value(x), y=alt.value(y))


def line(pts, color):
    return alt.Chart(pts_df(pts)).mark_line(color=color, strokeWidth=1.3, clip=True,
                                            interpolate="monotone").encode(
        x=alt.X("x:Q", scale=xs(), axis=None),
        y=alt.Y("y:Q", scale=ys(), axis=None),
        order="i:Q")


def fill(pts, left, bottom):
    xa = alt.Axis(orient="bottom", values=X_TICKS, format="d", labels=bottom, ticks=False,
                  tickSize=0, domain=False, grid=False, title=None, labelFont=SANS,
                  labelFontSize=13, labelColor="#000000", labelPadding=7,
                  labelFlush=False, labelOverlap=False)
    if left:
        ya = alt.Axis(orient="left", values=Y_TICKS, format=".1f", labels=True, ticks=False,
                      tickSize=0, domain=False, grid=False, title="DOS (states/eV)",
                      titleFont=SANS, titleFontSize=14, titleFontWeight="normal",
                      titleColor="#000000", titlePadding=7, labelFont=SANS, labelFontSize=13.5,
                      labelColor="#000000", labelPadding=3, labelFlush=False,
                      labelOverlap=False)
    else:
        ya = alt.Axis(orient="left", values=Y_TICKS, labels=False, ticks=False, tickSize=0,
                      domain=False, grid=False, title=None)
    return alt.Chart(pts_df(pts)).mark_area(color=FILL, clip=True, interpolate="monotone").encode(
        x=alt.X("x:Q", scale=xs(), axis=xa),
        y=alt.Y("y:Q", scale=ys(), axis=ya))


def tick_axis(orient, values, size, width):
    return alt.Axis(orient=orient, values=values, labels=False, domain=False, grid=False,
                    title=None, ticks=True, tickSize=size, tickWidth=width,
                    tickColor="#222222", offset=-size, zindex=2)


def axis_layers():
    out = []
    for xo, yo, xv, yv, s, w in [("bottom", "left", X_TICKS, Y_TICKS, 5, 1.0),
                                 ("top", "right", X_TICKS, Y_TICKS, 5, 1.0),
                                 ("bottom", "left", X_MINOR, Y_MINOR, 2.5, 0.8),
                                 ("top", "right", X_MINOR, Y_MINOR, 2.5, 0.8)]:
        out.append(alt.Chart(AXDF).mark_point(opacity=0).encode(
            x=alt.X("x:Q", scale=xs(), axis=tick_axis(xo, xv, s, w)),
            y=alt.Y("y:Q", scale=ys(), axis=tick_axis(yo, yv, s, w))))
    return out


def zero_rule():
    return alt.Chart(pd.DataFrame({"x": [0.0]})).mark_rule(
        color="#808080", strokeDash=[6, 4], strokeWidth=1.6).encode(
        x=alt.X("x:Q", scale=xs(), axis=None))


CW = {"N": .748, "i": .278, "-": .361, "(": .390, ")": .390, "n": .634, "m": .974,
      "o": .612, "u": .634, "t": .392, "O": .787, "d": .635}


def tw(s, size):
    return sum(CW.get(c, .6) for c in s) * size


def legend(entries, xl1, xl2, xt, y0, dy):
    out = []
    for k, (kind, color, prefix, sub) in enumerate(entries):
        y = y0 + k * dy
        if kind == "line":
            out.append(alt.Chart(ONE).mark_rule(color=color, strokeWidth=1.5).encode(
                x=alt.value(xl1), x2=alt.value(xl2), y=alt.value(y)))
        else:
            out.append(alt.Chart(ONE).mark_rect(color=FILL).encode(
                x=alt.value(xl1), x2=alt.value(xl2), y=alt.value(y - 6), y2=alt.value(y + 6)))
        out.append(T(prefix, xt, y, 12))
        xd = xt + tw(prefix, 12)
        if sub is None:
            out.append(T("p", xd, y, 12, style="italic"))
        else:
            out.append(T("d", xd, y, 12, style="italic"))
            out.append(T(sub, xd + 8.0, y + 4, 8.5, style="italic"))
    return out


def nlabel(n, x0, yb):
    return [T("n", x0, yb, 25, SERIF, "italic", baseline="alphabetic"),
            T("=", x0 + 21, yb, 25, SERIF, baseline="alphabetic"),
            T(n, x0 + 43, yb, 25, SERIF, baseline="alphabetic")]


def xtitle():
    return [T("ε − ε", 230, 214, 14), T("F", 266, 218, 10), T("(eV)", 276.5, 214, 14)]


def panel(op, lines, op_line, h, left, bottom, texts):
    layers = [fill(op, left, bottom), zero_rule()]
    if op_line:
        layers.append(line(op, PURPLE))
    for pts, c in lines:
        layers.append(line(pts, c))
    layers += axis_layers()
    layers += texts
    return alt.layer(*layers).resolve_scale(x="shared", y="shared").resolve_axis(
        x="independent", y="independent").properties(width=PW, height=h)


LEG2 = [("line", RED, "Ni-", SUB_X2Y2), ("line", BLUE, "Ni-", SUB_Z2), ("patch", FILL, "O-", None)]
LEG4 = [("line", RED, "Ni(in)-", SUB_X2Y2), ("line", GREEN, "Ni(out)-", SUB_X2Y2),
        ("line", BLUE, "Ni(in)-", SUB_Z2), ("line", ORANGE, "Ni(out)-", SUB_Z2),
        ("patch", FILL, "O-", None)]
LEG5 = [("line", RED, "Ni(in)-", SUB_X2Y2), ("line", GREEN, "Ni(mid)-", SUB_X2Y2),
        ("line", ORANGE, "Ni(out)-", SUB_X2Y2), ("line", BLUE, "Ni(in)-", SUB_Z2),
        ("line", BLACK, "Ni(mid)-", SUB_Z2), ("line", PINK, "Ni(out)-", SUB_Z2),
        ("patch", FILL, "O-", None)]

ROWS = [
    (210, True, AL_OP, [(AL_RED, RED), (AL_BLUE, BLUE)],
     AR_OP, [(AR_RED, RED), (AR_BLUE, BLUE)], legend(LEG2, 430, 461, 472, 10, 22.5), 25),
    (210, True, BL_OP, [(BL_RED, RED), (BL_BLUE, BLUE)],
     BR_OP, [(BR_RED, RED), (BR_BLUE, BLUE)], legend(LEG2, 6, 35, 46, 20, 22.5), 27),
    (210, False, CL_OP, [(CL_RED, RED), (CL_GREEN, GREEN), (CL_BLUE, BLUE), (CL_ORANGE, ORANGE)],
     CR_OP, [(CR_RED, RED), (CR_GREEN, GREEN), (CR_BLUE, BLUE), (CR_ORANGE, ORANGE)],
     legend(LEG4, 14, 43, 55, 19, 23.3), 30),
    (180, False, DL_OP, [(DL_RED, RED), (DL_GREEN, GREEN), (DL_ORANGE, ORANGE), (DL_BLUE, BLUE),
                         (DL_BLACK, BLACK), (DL_PINK, PINK)],
     DR_OP, [(DR_RED, RED), (DR_GREEN, GREEN), (DR_ORANGE, ORANGE), (DR_BLUE, BLUE),
             (DR_BLACK, BLACK), (DR_PINK, PINK)],
     legend(LEG5, 14, 43, 55, 11, 23.5), 30),
]

panels = []
for r, (h, opl, lop, llines, rop, rlines, leg, nyb) in enumerate(ROWS):
    last = r == len(ROWS) - 1
    ltexts = nlabel(N_LAYERS[r], 25, nyb) + [T(PANEL_TAGS[r], -72, 6, 28, SERIF, baseline="alphabetic")]
    rtexts = nlabel(N_LAYERS[r], 218, nyb) + leg
    if r == 0:
        ltexts.append(T(COLUMN_TITLES[0], 269, -24, 32, SERIF, align="center", baseline="alphabetic"))
        rtexts.append(T(COLUMN_TITLES[1], 277, -24, 32, SERIF, align="center", baseline="alphabetic"))
    if last:
        ltexts += xtitle()
        rtexts += xtitle()
    panels.append(panel(lop, llines, opl, h, True, last, ltexts))
    panels.append(panel(rop, rlines, opl, h, False, last, rtexts))

chart = alt.concat(*panels, columns=2, spacing={"row": 25, "column": 33}, bounds="flush").properties(
    padding={"left": 8, "top": 2, "right": 10, "bottom": 2}
).configure_view(stroke="#222222", strokeWidth=1.1).configure(background="white")

chart.save("out.html", embed_options={"renderer": "svg", "actions": False})
